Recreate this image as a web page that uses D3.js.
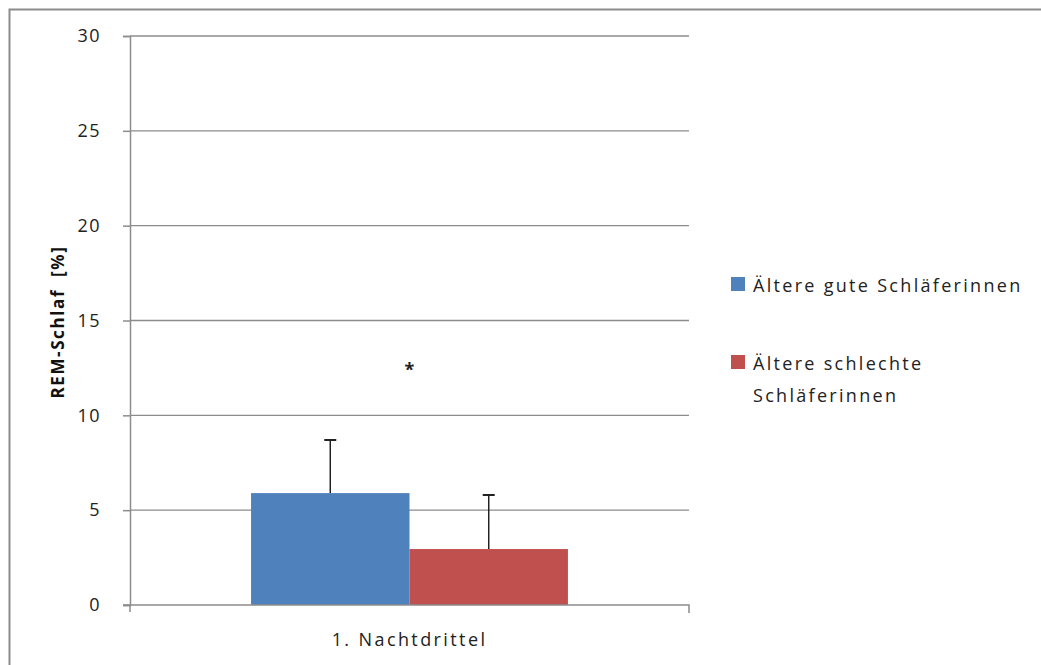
<!DOCTYPE html>
<html><head><meta charset="utf-8">
<script src="https://cdn.jsdelivr.net/npm/d3@7"></script>
<style>body{margin:0;background:#fff}svg{display:block}text{font-family:"Open Sans","DejaVu Sans",sans-serif}</style>
</head><body><svg id="c" width="1041" height="665"></svg>
<script>
const categories = ["1. Nachtdrittel"];
const seriesNames = ["Ältere gute Schläferinnen", "Ältere schlechte Schläferinnen"];
const seriesColors = ["#4f81bd", "#c0504d"];
const means = [5.9, 2.95];
const errors = [2.8, 2.85];
const yTicks = [0, 5, 10, 15, 20, 25, 30];
const yTitle = "REM-Schlaf  [%]";
const signif = "*";

const svg = d3.select("#c");
svg.append("rect").attr("x", 9.5).attr("y", 9.5).attr("width", 1100).attr("height", 700)
  .attr("fill", "none").attr("stroke", "#8c8c8c").attr("stroke-width", 2);

const L = 130, R = 689, T = 36, B = 605;
const x = d3.scaleBand().domain(categories).range([L, R]).paddingInner(0).paddingOuter(0.382);
const xs = d3.scaleBand().domain(d3.range(means.length)).range([0, x.bandwidth()]);
const y = d3.scaleLinear().domain([0, 30]).range([B, T]);

// gridlines
svg.append("g").selectAll("line").data(yTicks.filter(d => d > 0)).join("line")
  .attr("x1", L).attr("x2", R).attr("y1", d => y(d)).attr("y2", d => y(d))
  .attr("stroke", "#8c8c8c").attr("stroke-width", 1.3);

// y axis
const ya = svg.append("g").attr("transform", `translate(${L},0)`)
  .call(d3.axisLeft(y).tickValues(yTicks).tickSize(7).tickPadding(22));
ya.select(".domain").attr("stroke", "#8c8c8c").attr("stroke-width", 1.5);
ya.selectAll(".tick line").attr("stroke", "#8c8c8c").attr("stroke-width", 1.5);
ya.selectAll("text").attr("font-size", 18).attr("fill", "#222").attr("font-family", "Open Sans")
  .attr("letter-spacing", 1.5);

// bars
const g = svg.append("g");
categories.forEach(c => {
  means.forEach((m, i) => {
    g.append("rect").attr("x", x(c) + xs(i)).attr("width", xs.bandwidth())
      .attr("y", y(m)).attr("height", y(0) - y(m)).attr("fill", seriesColors[i]);
    const cx = x(c) + xs(i) + xs.bandwidth() / 2;
    g.append("line").attr("x1", cx).attr("x2", cx).attr("y1", y(m)).attr("y2", y(m + errors[i]))
      .attr("stroke", "#222").attr("stroke-width", 1.5);
    g.append("line").attr("x1", cx - 6).attr("x2", cx + 6).attr("y1", y(m + errors[i])).attr("y2", y(m + errors[i]))
      .attr("stroke", "#222").attr("stroke-width", 2);
  });
  svg.append("text").attr("x", x(c) + x.bandwidth() / 2).attr("y", y(12.5) + 8)
    .attr("text-anchor", "middle").attr("font-size", 18).attr("font-weight", "bold").attr("fill", "#222").text(signif);
});

// x axis
const xa = svg.append("g").attr("transform", `translate(0,${B})`)
  .call(d3.axisBottom(x).tickSize(0).tickPadding(28));
xa.select(".domain").remove();
xa.selectAll("text").attr("font-size", 18).attr("fill", "#222").attr("font-family", "Open Sans")
  .attr("letter-spacing", 2.4);
svg.append("path").attr("d", `M${L - 7},${B}H${R}V${B + 8}`).attr("fill", "none")
  .attr("stroke", "#8c8c8c").attr("stroke-width", 1.5);
svg.append("line").attr("x1", L).attr("x2", L).attr("y1", B).attr("y2", B + 7)
  .attr("stroke", "#8c8c8c").attr("stroke-width", 1.5);

// y title
svg.append("text").attr("transform", "translate(64,322) rotate(-90)").attr("text-anchor", "middle")
  .attr("font-size", 17).attr("font-weight", "bold").attr("fill", "#111").attr("letter-spacing", 1.6)
  .attr("xml:space", "preserve").style("white-space", "pre").text(yTitle);

// legend
const lg = svg.append("g");
const legendLines = [["Ältere gute Schläferinnen"], ["Ältere schlechte", "Schläferinnen"]];
const legendY = [284, 362];
seriesNames.forEach((n, i) => {
  lg.append("rect").attr("x", 731).attr("y", legendY[i] - 7).attr("width", 14).attr("height", 14).attr("fill", seriesColors[i]);
  legendLines[i].forEach((t, j) => {
    lg.append("text").attr("x", 753).attr("y", legendY[i] + 8 + j * 32).attr("font-size", 18)
      .attr("letter-spacing", 2.3).attr("fill", "#222").text(t);
  });
});
</script></body></html>
